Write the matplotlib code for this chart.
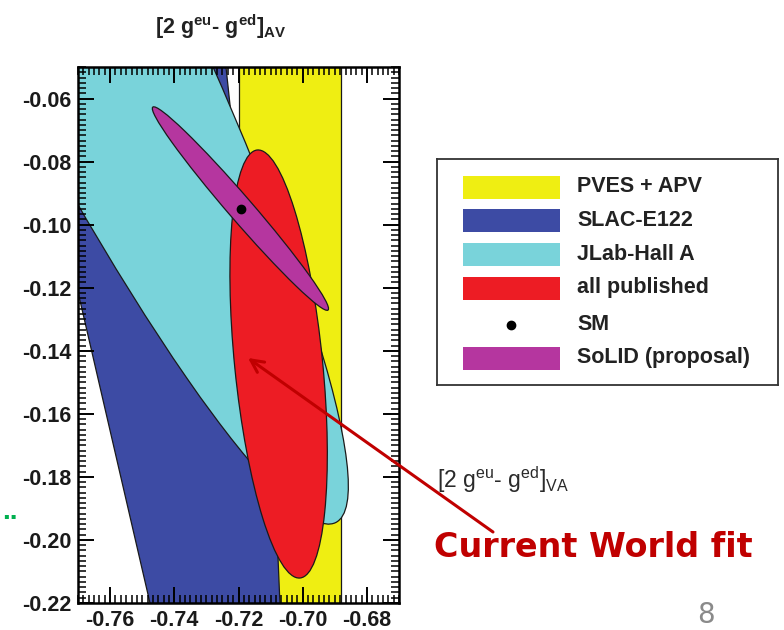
import numpy as np
import matplotlib
matplotlib.use("Agg")
import matplotlib.pyplot as plt
from matplotlib.patches import Ellipse, Polygon, Rectangle
from matplotlib.ticker import MultipleLocator, FormatStrFormatter

# ---------------- data ----------------
# PVES + APV vertical band (x range)
pves_x = [-0.7198, -0.6882]
# SLAC-E122 band outline
slac_x = [-0.7885, -0.7249, -0.7239, -0.7077, -0.7071, -0.7069, -0.7453]
slac_y = [-0.0400, -0.0400, -0.0500, -0.2054, -0.2200, -0.2300, -0.2300]
# JLab-Hall A ellipse: centre, semi-axes, angle (deg)
jlab_center = [-0.7820, -0.0054]
jlab_axes = [0.2104, 0.0305]
jlab_angle = -64.0
# all published ellipse
allpub_center = [-0.7075, -0.1442]
allpub_axes = [0.0682, 0.0137]
allpub_angle = -84.4
# SoLID (proposal) ellipse
solid_center = [-0.7194, -0.0949]
solid_axes = [0.0422, 0.0038]
solid_angle = -49.7
# Standard Model point
sm_x = [-0.7192]
sm_y = [-0.0950]

legend_labels = ["PVES + APV", "SLAC-E122", "JLab-Hall A", "all published",
                 "SM", "SoLID (proposal)"]

x_range = [-0.77, -0.67]
y_range = [-0.22, -0.05]

C_YEL = "#EFEE12"
C_BLUE = "#3D4BA4"
C_CYAN = "#79D3DA"
C_RED = "#ED1C24"
C_MAG = "#B5369F"
C_ARROW = "#C00000"

plt.rcParams.update({
    "font.family": ["Liberation Sans", "DejaVu Sans"],
    "axes.unicode_minus": False,
    "mathtext.fontset": "custom",
    "mathtext.rm": "Liberation Sans",
    "mathtext.bf": "Liberation Sans:bold",
    "mathtext.it": "Liberation Sans:italic",
})

W, H = 784, 630
fig = plt.figure(figsize=(W / 100, H / 100), dpi=100)


def fx(px):
    return px / W


def fy(py):
    return 1 - py / H


ax = fig.add_axes([78 / W, (H - 603) / H, 321 / W, 536 / H])
ax.set_xlim(*x_range)
ax.set_ylim(*y_range)

EC = "#1a1a1a"
LW = 0.9
ax.axvspan(pves_x[0], pves_x[1], facecolor=C_YEL, edgecolor=EC, lw=LW, zorder=1.0)
ax.add_patch(Polygon(np.column_stack([slac_x, slac_y]), closed=True,
                     facecolor=C_BLUE, edgecolor=EC, lw=LW, zorder=1.1))
ax.add_patch(Ellipse(jlab_center, 2 * jlab_axes[0], 2 * jlab_axes[1], angle=jlab_angle,
                     facecolor=C_CYAN, edgecolor=EC, lw=LW, zorder=1.2))
ax.add_patch(Ellipse(allpub_center, 2 * allpub_axes[0], 2 * allpub_axes[1], angle=allpub_angle,
                     facecolor=C_RED, edgecolor=EC, lw=LW, zorder=1.3))
ax.add_patch(Ellipse(solid_center, 2 * solid_axes[0], 2 * solid_axes[1], angle=solid_angle,
                     facecolor=C_MAG, edgecolor=EC, lw=LW, zorder=1.4))
ax.plot(sm_x, sm_y, "o", color="black", ms=6, zorder=1.5)

# axes styling (ROOT-like)
for s in ax.spines.values():
    s.set_linewidth(1.8)
ax.xaxis.set_major_locator(MultipleLocator(0.02))
ax.yaxis.set_major_locator(MultipleLocator(0.02))
ax.xaxis.set_minor_locator(MultipleLocator(0.02 / 12))
ax.yaxis.set_minor_locator(MultipleLocator(0.02 / 12))
ax.xaxis.set_major_formatter(FormatStrFormatter("%.2f"))
ax.yaxis.set_major_formatter(FormatStrFormatter("%.2f"))
ax.tick_params(which="major", direction="in", top=True, right=True,
               length=11.5, width=1.4, labelsize=15.5, pad=5)
ax.tick_params(which="minor", direction="in", top=True, right=True,
               length=5.8, width=1.1)
for lab in ax.get_xticklabels() + ax.get_yticklabels():
    lab.set_fontweight("bold")
    lab.set_color("#1a1a1a")

# axis titles
fig.text(fx(221), fy(34), r"[2 g$^{\mathbf{eu}}$- g$^{\mathbf{ed}}$]$_{\mathbf{AV}}$",
         ha="center", va="baseline", fontsize=15.5, fontweight="bold", color="#222222")
fig.text(fx(437), fy(488), r"[2 g$^{\mathrm{eu}}$- g$^{\mathrm{ed}}$]$_{\mathrm{VA}}$",
         ha="left", va="baseline", fontsize=16.5, color="#2a2a2a")

# legend box (drawn in pixel space of its own axes)
lax = fig.add_axes([437 / W, (H - 385) / H, (778 - 437) / W, (385 - 159) / H])
lax.set_xlim(437, 778)
lax.set_ylim(385, 159)
lax.set_xticks([])
lax.set_yticks([])
for s in lax.spines.values():
    s.set_linewidth(1.3)
    s.set_color("#333333")
row_y = [187, 220, 254, 288, 325, 358]
swatch_colors = [C_YEL, C_BLUE, C_CYAN, C_RED, None, C_MAG]
for yy, col, lab in zip(row_y, swatch_colors, legend_labels):
    if col is None:
        lax.plot([511], [yy], "o", color="black", ms=6)
    else:
        lax.add_patch(Rectangle((463, yy - 11.5), 97, 23, facecolor=col, edgecolor="none"))
    lax.text(577, yy, lab, ha="left", va="center", fontsize=15.5, fontweight="bold",
             color="#222222")

# annotation arrow and text
ax.annotate("", xy=(248, H - 358), xycoords="figure pixels",
            xytext=(493, H - 532), textcoords="figure pixels",
            arrowprops=dict(arrowstyle="->,head_length=0.9,head_width=0.45",
                            color=C_ARROW, lw=2.2, shrinkA=0, shrinkB=0),
            annotation_clip=False, zorder=10)
fig.text(fx(593), fy(557), "Current World fit", ha="center", va="baseline",
         fontsize=24, fontweight="bold", color=C_ARROW, family="DejaVu Sans")
fig.text(fx(706), fy(623), "8", ha="center", va="baseline", fontsize=20,
         color="#8a8a8a", family="DejaVu Sans")
fig.text(fx(2), fy(519), "..", ha="left", va="baseline", fontsize=20,
         fontweight="bold", color="#00B050")

fig.savefig("out.png", dpi=100)
